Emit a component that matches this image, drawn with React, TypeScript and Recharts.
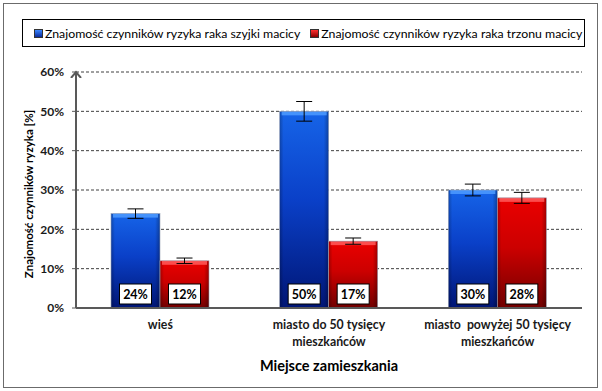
import React from "react";
import {
  BarChart,
  Bar,
  XAxis,
  YAxis,
  CartesianGrid,
  ErrorBar,
  LabelList,
} from "recharts";

const categories = [
  "wieś",
  "miasto do 50 tysięcy|mieszkańców",
  "miasto  powyżej 50 tysięcy|mieszkańców",
];
const szyjka = [24, 50, 30];
const trzon = [12, 17, 28];
const szyjkaErr = [1.2, 2.5, 1.5];
const trzonErr = [0.7, 0.8, 1.4];
const yTicks = [0, 10, 20, 30, 40, 50, 60];

const seriesNames = [
  "Znajomość czynników ryzyka raka szyjki macicy",
  "Znajomość czynników ryzyka raka trzonu macicy",
];

const data = categories.map((c, i) => ({
  name: c,
  szyjka: szyjka[i],
  trzon: trzon[i],
  szyjkaErr: szyjkaErr[i],
  trzonErr: trzonErr[i],
}));

const FONT = "Lato, 'Open Sans', sans-serif";
const AXIS = "#595959";

const BevelBar = (props: any) => {
  const { x, y, width, height, color } = props;
  if (!height || height <= 0) return null;
  const light = color === "blue" ? "#4d9bff" : "#ff5a5a";
  return (
    <g>
      <rect x={x} y={y} width={width} height={height} fill={`url(#grad-${color})`} />
      <rect x={x} y={y} width={width} height={height} fill="url(#side-shade)" />
      <rect x={x + 2} y={y} width={width - 4} height={4} fill={light} opacity={0.85} />
      <rect x={x} y={y} width={width} height={height} fill="none" stroke="#9aa3b5" strokeWidth={0.6} />
    </g>
  );
};

const ValueBox = (props: any) => {
  const { x, width, value } = props;
  const cx = x + width / 2;
  const cy = 294;
  return (
    <g>
      <rect x={cx - 16} y={cy - 10} width={32} height={20} fill="#fff" stroke="#000" strokeWidth={1} />
      <text
        x={cx}
        y={cy + 4.5}
        textAnchor="middle"
        fontFamily={FONT}
        fontWeight={700}
        fontSize={12.5}
        fill="#000"
      >
        {`${value}%`}
      </text>
    </g>
  );
};

const CategoryTick = (props: any) => {
  const { x, y, payload } = props;
  const lines = String(payload.value).split("|");
  return (
    <g transform={`translate(${x},${y})`}>
      {lines.map((l, i) => (
        <text
          key={i}
          x={0}
          y={13 + i * 17}
          textAnchor="middle"
          fontFamily={FONT}
          fontWeight={700}
          fontSize={12.3}
          fill="#1a1a1a"
          style={{ whiteSpace: "pre" }}
        >
          {l}
        </text>
      ))}
    </g>
  );
};

const LegendBox = () => (
  <div
    style={{
      position: "absolute",
      left: 22,
      top: 19,
      width: 563,
      height: 28,
      border: "1.5px solid #000",
      boxSizing: "border-box",
      display: "flex",
      alignItems: "center",
      paddingLeft: 11,
      fontFamily: FONT,
      fontSize: 12.3,
      color: "#000",
      whiteSpace: "nowrap",
    }}
  >
    {seriesNames.map((n, i) => (
      <span key={i} style={{ display: "flex", alignItems: "center", marginRight: i === 0 ? 10 : 0 }}>
        <span
          style={{
            width: 7,
            height: 7,
            marginRight: 2,
            background: i === 0 ? "linear-gradient(#3b86ff,#0a2a9a)" : "linear-gradient(#ff3030,#8a0000)",
            border: "0.5px solid #333",
          }}
        />
        {n}
      </span>
    ))}
  </div>
);

export default function App() {
  return (
    <div
      style={{
        position: "absolute",
        left: 0,
        top: 0,
        width: 602,
        height: 391,
        background: "#fff",
      }}
    >
      <div
        style={{
          position: "absolute",
          left: 3,
          top: 3,
          width: 595,
          height: 385,
          border: "1.5px solid #6b6b6b",
          boxSizing: "border-box",
        }}
      />
      <BarChart
        width={602}
        height={391}
        data={data}
        margin={{ top: 72, right: 20, left: 0, bottom: 0 }}
        barGap={0}
        barSize={49}
        style={{ position: "absolute", left: 0, top: 0 }}
      >
        <defs>
          <linearGradient id="grad-blue" x1="0" y1="0" x2="0" y2="1">
            <stop offset="0%" stopColor="#1664e8" />
            <stop offset="45%" stopColor="#0a40c8" />
            <stop offset="100%" stopColor="#001574" />
          </linearGradient>
          <linearGradient id="grad-red" x1="0" y1="0" x2="0" y2="1">
            <stop offset="0%" stopColor="#ea0000" />
            <stop offset="45%" stopColor="#cc0000" />
            <stop offset="100%" stopColor="#700000" />
          </linearGradient>
          <linearGradient id="side-shade" x1="0" y1="0" x2="1" y2="0">
            <stop offset="0%" stopColor="#000" stopOpacity={0.25} />
            <stop offset="8%" stopColor="#000" stopOpacity={0} />
            <stop offset="90%" stopColor="#000" stopOpacity={0} />
            <stop offset="100%" stopColor="#000" stopOpacity={0.3} />
          </linearGradient>
          <marker id="yarrow" markerWidth="6" markerHeight="6" refX="3" refY="3" orient="auto-start-reverse">
            <path d="M0,0.5 L3,3 L0,5.5" fill="none" stroke={AXIS} strokeWidth={1} />
          </marker>
        </defs>
        <CartesianGrid vertical={false} stroke="#404040" strokeDasharray="3 2" />
        <XAxis
          dataKey="name"
          height={83}
          axisLine={{ stroke: AXIS, strokeWidth: 2 }}
          tickLine={false}
          tick={<CategoryTick />}
          interval={0}
          label={{
            value: "Miejsce zamieszkania",
            position: "insideBottom",
            offset: 20,
            fontFamily: FONT,
            fontWeight: 700,
            fontSize: 14.5,
            fill: "#000",
          }}
        />
        <YAxis
          domain={[0, 60]}
          ticks={yTicks}
          tickFormatter={(v) => `${v}%`}
          axisLine={{ stroke: AXIS, strokeWidth: 2, markerStart: "url(#yarrow)" }}
          tickLine={{ stroke: AXIS }}
          tickSize={4}
          tickMargin={8}
          tick={{ fontFamily: FONT, fontWeight: 700, fontSize: 12, fill: "#1a1a1a" }}
          width={76}
          label={{
            value: "Znajomość  czynników  ryzyka  [%]",
            angle: -90,
            position: "insideLeft",
            dx: 24,
            dy: 4,
            style: { textAnchor: "middle", whiteSpace: "pre" },
            fontFamily: FONT,
            fontWeight: 700,
            fontSize: 11.5,
            fill: "#000",
          }}
        />
        <Bar dataKey="szyjka" name={seriesNames[0]} shape={<BevelBar color="blue" />} isAnimationActive={false}>
          <ErrorBar dataKey="szyjkaErr" width={8} stroke="#000" strokeWidth={1} />
          <LabelList dataKey="szyjka" content={<ValueBox />} />
        </Bar>
        <Bar dataKey="trzon" name={seriesNames[1]} shape={<BevelBar color="red" />} isAnimationActive={false}>
          <ErrorBar dataKey="trzonErr" width={8} stroke="#000" strokeWidth={1} />
          <LabelList dataKey="trzon" content={<ValueBox />} />
        </Bar>
      </BarChart>
      <LegendBox />
    </div>
  );
}
